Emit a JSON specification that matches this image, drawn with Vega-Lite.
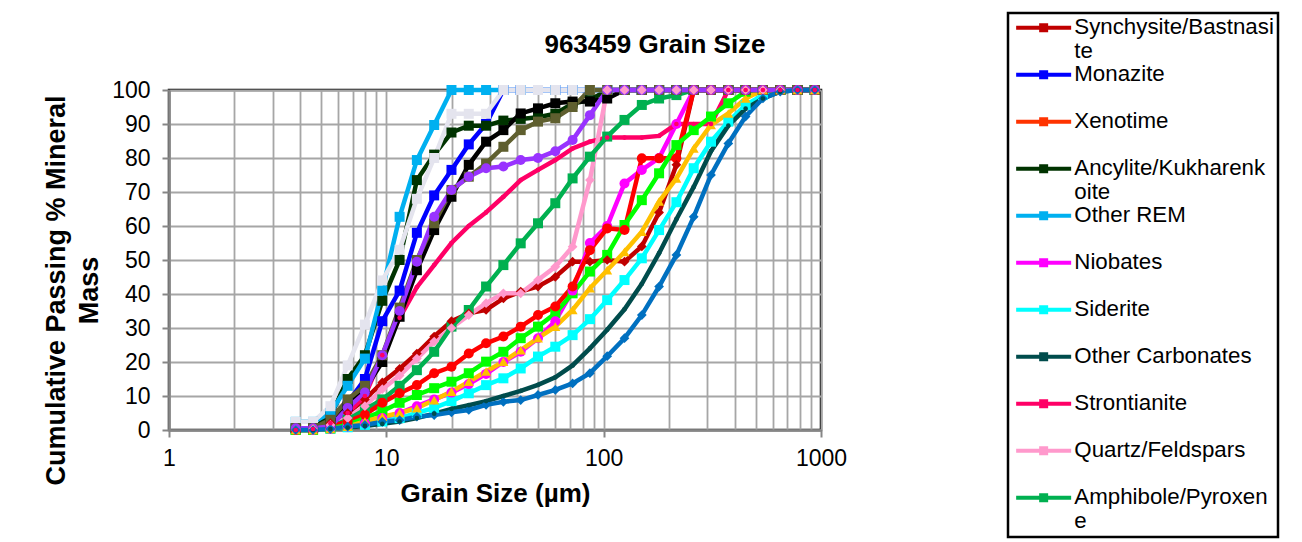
{
"$schema":"https://vega.github.io/schema/vega-lite/v6.json",
"width":652,"height":340,
"autosize":{"type":"none"},
"padding":{"left":169,"top":90,"right":481,"bottom":112},
"background":"white",
"title":{"text":"963459 Grain Size","fontSize":26,"fontWeight":"bold","font":"Liberation Sans","color":"#000","anchor":"middle","frame":"group","dx":160,"dy":28,"offset":-39,"baseline":"alphabetic"},
"data":{"values":[
{"s":"Synchysite/Bastnasite","x":3.83,"y":0},{"s":"Synchysite/Bastnasite","x":4.6,"y":0.3},{"s":"Synchysite/Bastnasite","x":5.53,"y":2},{"s":"Synchysite/Bastnasite","x":6.64,"y":5},{"s":"Synchysite/Bastnasite","x":7.97,"y":9},{"s":"Synchysite/Bastnasite","x":9.58,"y":14},{"s":"Synchysite/Bastnasite","x":11.51,"y":18},{"s":"Synchysite/Bastnasite","x":13.82,"y":22.5},{"s":"Synchysite/Bastnasite","x":16.6,"y":27.5},{"s":"Synchysite/Bastnasite","x":19.94,"y":32},{"s":"Synchysite/Bastnasite","x":23.95,"y":34.3},{"s":"Synchysite/Bastnasite","x":28.77,"y":35.3},{"s":"Synchysite/Bastnasite","x":34.56,"y":38.7},{"s":"Synchysite/Bastnasite","x":41.52,"y":40.7},{"s":"Synchysite/Bastnasite","x":49.87,"y":42.2},{"s":"Synchysite/Bastnasite","x":59.91,"y":45},{"s":"Synchysite/Bastnasite","x":71.95,"y":49.5},{"s":"Synchysite/Bastnasite","x":86.44,"y":49.5},{"s":"Synchysite/Bastnasite","x":103.8,"y":50},{"s":"Synchysite/Bastnasite","x":124.7,"y":49.5},{"s":"Synchysite/Bastnasite","x":149.8,"y":54},{"s":"Synchysite/Bastnasite","x":179.9,"y":64},{"s":"Synchysite/Bastnasite","x":216.1,"y":78},{"s":"Synchysite/Bastnasite","x":259.6,"y":100},{"s":"Synchysite/Bastnasite","x":311.8,"y":100},{"s":"Synchysite/Bastnasite","x":374.6,"y":100},{"s":"Synchysite/Bastnasite","x":449.9,"y":100},{"s":"Synchysite/Bastnasite","x":540.4,"y":100},{"s":"Synchysite/Bastnasite","x":649.2,"y":100},{"s":"Synchysite/Bastnasite","x":779.8,"y":100},{"s":"Synchysite/Bastnasite","x":936.6,"y":100},
{"s":"Monazite","x":3.83,"y":0.5},{"s":"Monazite","x":4.6,"y":0.5},{"s":"Monazite","x":5.53,"y":4},{"s":"Monazite","x":6.64,"y":8},{"s":"Monazite","x":7.97,"y":15},{"s":"Monazite","x":9.58,"y":32},{"s":"Monazite","x":11.51,"y":41},{"s":"Monazite","x":13.82,"y":58},{"s":"Monazite","x":16.6,"y":69},{"s":"Monazite","x":19.94,"y":76.5},{"s":"Monazite","x":23.95,"y":84},{"s":"Monazite","x":28.77,"y":90},{"s":"Monazite","x":34.56,"y":100},{"s":"Monazite","x":41.52,"y":100},{"s":"Monazite","x":49.87,"y":100},{"s":"Monazite","x":59.91,"y":100},{"s":"Monazite","x":71.95,"y":100},{"s":"Monazite","x":86.44,"y":100},{"s":"Monazite","x":103.8,"y":100},{"s":"Monazite","x":124.7,"y":100},{"s":"Monazite","x":149.8,"y":100},{"s":"Monazite","x":179.9,"y":100},{"s":"Monazite","x":216.1,"y":100},{"s":"Monazite","x":259.6,"y":100},{"s":"Monazite","x":311.8,"y":100},{"s":"Monazite","x":374.6,"y":100},{"s":"Monazite","x":449.9,"y":100},{"s":"Monazite","x":540.4,"y":100},{"s":"Monazite","x":649.2,"y":100},{"s":"Monazite","x":779.8,"y":100},{"s":"Monazite","x":936.6,"y":100},
{"s":"Ancylite/Kukharenkoite","x":3.83,"y":0.5},{"s":"Ancylite/Kukharenkoite","x":4.6,"y":0.5},{"s":"Ancylite/Kukharenkoite","x":5.53,"y":4},{"s":"Ancylite/Kukharenkoite","x":6.64,"y":15},{"s":"Ancylite/Kukharenkoite","x":7.97,"y":22},{"s":"Ancylite/Kukharenkoite","x":9.58,"y":38},{"s":"Ancylite/Kukharenkoite","x":11.51,"y":50},{"s":"Ancylite/Kukharenkoite","x":13.82,"y":73.5},{"s":"Ancylite/Kukharenkoite","x":16.6,"y":81},{"s":"Ancylite/Kukharenkoite","x":19.94,"y":87.5},{"s":"Ancylite/Kukharenkoite","x":23.95,"y":89.5},{"s":"Ancylite/Kukharenkoite","x":28.77,"y":89.5},{"s":"Ancylite/Kukharenkoite","x":34.56,"y":91},{"s":"Ancylite/Kukharenkoite","x":41.52,"y":91.5},{"s":"Ancylite/Kukharenkoite","x":49.87,"y":92},{"s":"Ancylite/Kukharenkoite","x":59.91,"y":93},{"s":"Ancylite/Kukharenkoite","x":71.95,"y":96},{"s":"Ancylite/Kukharenkoite","x":86.44,"y":97},{"s":"Ancylite/Kukharenkoite","x":103.8,"y":100},{"s":"Ancylite/Kukharenkoite","x":124.7,"y":100},{"s":"Ancylite/Kukharenkoite","x":149.8,"y":100},{"s":"Ancylite/Kukharenkoite","x":179.9,"y":100},{"s":"Ancylite/Kukharenkoite","x":216.1,"y":100},{"s":"Ancylite/Kukharenkoite","x":259.6,"y":100},{"s":"Ancylite/Kukharenkoite","x":311.8,"y":100},{"s":"Ancylite/Kukharenkoite","x":374.6,"y":100},{"s":"Ancylite/Kukharenkoite","x":449.9,"y":100},{"s":"Ancylite/Kukharenkoite","x":540.4,"y":100},{"s":"Ancylite/Kukharenkoite","x":649.2,"y":100},{"s":"Ancylite/Kukharenkoite","x":779.8,"y":100},{"s":"Ancylite/Kukharenkoite","x":936.6,"y":100},
{"s":"Other REM","x":3.83,"y":2.4},{"s":"Other REM","x":4.6,"y":2.4},{"s":"Other REM","x":5.53,"y":5},{"s":"Other REM","x":6.64,"y":13},{"s":"Other REM","x":7.97,"y":21},{"s":"Other REM","x":9.58,"y":41},{"s":"Other REM","x":11.51,"y":62.7},{"s":"Other REM","x":13.82,"y":79.4},{"s":"Other REM","x":16.6,"y":89.7},{"s":"Other REM","x":19.94,"y":100},{"s":"Other REM","x":23.95,"y":100},{"s":"Other REM","x":28.77,"y":100},{"s":"Other REM","x":34.56,"y":100},{"s":"Other REM","x":41.52,"y":100},{"s":"Other REM","x":49.87,"y":100},{"s":"Other REM","x":59.91,"y":100},{"s":"Other REM","x":71.95,"y":100},{"s":"Other REM","x":86.44,"y":100},{"s":"Other REM","x":103.8,"y":100},{"s":"Other REM","x":124.7,"y":100},{"s":"Other REM","x":149.8,"y":100},{"s":"Other REM","x":179.9,"y":100},{"s":"Other REM","x":216.1,"y":100},{"s":"Other REM","x":259.6,"y":100},{"s":"Other REM","x":311.8,"y":100},{"s":"Other REM","x":374.6,"y":100},{"s":"Other REM","x":449.9,"y":100},{"s":"Other REM","x":540.4,"y":100},{"s":"Other REM","x":649.2,"y":100},{"s":"Other REM","x":779.8,"y":100},{"s":"Other REM","x":936.6,"y":100},
{"s":"Niobates","x":3.83,"y":0},{"s":"Niobates","x":4.6,"y":0},{"s":"Niobates","x":5.53,"y":0.3},{"s":"Niobates","x":6.64,"y":1},{"s":"Niobates","x":7.97,"y":2},{"s":"Niobates","x":9.58,"y":3.5},{"s":"Niobates","x":11.51,"y":5},{"s":"Niobates","x":13.82,"y":7},{"s":"Niobates","x":16.6,"y":9},{"s":"Niobates","x":19.94,"y":11},{"s":"Niobates","x":23.95,"y":13.5},{"s":"Niobates","x":28.77,"y":16.5},{"s":"Niobates","x":34.56,"y":20},{"s":"Niobates","x":41.52,"y":23},{"s":"Niobates","x":49.87,"y":27},{"s":"Niobates","x":59.91,"y":32},{"s":"Niobates","x":71.95,"y":41},{"s":"Niobates","x":86.44,"y":55},{"s":"Niobates","x":103.8,"y":60},{"s":"Niobates","x":124.7,"y":72.5},{"s":"Niobates","x":149.8,"y":76.5},{"s":"Niobates","x":179.9,"y":80},{"s":"Niobates","x":216.1,"y":90},{"s":"Niobates","x":259.6,"y":100},{"s":"Niobates","x":311.8,"y":100},{"s":"Niobates","x":374.6,"y":100},{"s":"Niobates","x":449.9,"y":100},{"s":"Niobates","x":540.4,"y":100},{"s":"Niobates","x":649.2,"y":100},{"s":"Niobates","x":779.8,"y":100},{"s":"Niobates","x":936.6,"y":100},
{"s":"Siderite","x":3.83,"y":0},{"s":"Siderite","x":4.6,"y":0},{"s":"Siderite","x":5.53,"y":0.3},{"s":"Siderite","x":6.64,"y":0.8},{"s":"Siderite","x":7.97,"y":1.5},{"s":"Siderite","x":9.58,"y":2.5},{"s":"Siderite","x":11.51,"y":3.5},{"s":"Siderite","x":13.82,"y":5},{"s":"Siderite","x":16.6,"y":6.5},{"s":"Siderite","x":19.94,"y":8.5},{"s":"Siderite","x":23.95,"y":10.8},{"s":"Siderite","x":28.77,"y":13.2},{"s":"Siderite","x":34.56,"y":15.2},{"s":"Siderite","x":41.52,"y":18.1},{"s":"Siderite","x":49.87,"y":21.6},{"s":"Siderite","x":59.91,"y":24.5},{"s":"Siderite","x":71.95,"y":27.9},{"s":"Siderite","x":86.44,"y":32.6},{"s":"Siderite","x":103.8,"y":38.2},{"s":"Siderite","x":124.7,"y":44.1},{"s":"Siderite","x":149.8,"y":50.5},{"s":"Siderite","x":179.9,"y":58.8},{"s":"Siderite","x":216.1,"y":67},{"s":"Siderite","x":259.6,"y":77},{"s":"Siderite","x":311.8,"y":84.8},{"s":"Siderite","x":374.6,"y":90.7},{"s":"Siderite","x":449.9,"y":95.6},{"s":"Siderite","x":540.4,"y":98.5},{"s":"Siderite","x":649.2,"y":100},{"s":"Siderite","x":779.8,"y":100},{"s":"Siderite","x":936.6,"y":100},
{"s":"Other Carbonates","x":3.83,"y":0},{"s":"Other Carbonates","x":4.6,"y":0},{"s":"Other Carbonates","x":5.53,"y":0.3},{"s":"Other Carbonates","x":6.64,"y":0.7},{"s":"Other Carbonates","x":7.97,"y":1.2},{"s":"Other Carbonates","x":9.58,"y":1.8},{"s":"Other Carbonates","x":11.51,"y":2.5},{"s":"Other Carbonates","x":13.82,"y":3.5},{"s":"Other Carbonates","x":16.6,"y":4.8},{"s":"Other Carbonates","x":19.94,"y":6.2},{"s":"Other Carbonates","x":23.95,"y":7.3},{"s":"Other Carbonates","x":28.77,"y":8.5},{"s":"Other Carbonates","x":34.56,"y":10},{"s":"Other Carbonates","x":41.52,"y":11.5},{"s":"Other Carbonates","x":49.87,"y":13.3},{"s":"Other Carbonates","x":59.91,"y":15.5},{"s":"Other Carbonates","x":71.95,"y":19},{"s":"Other Carbonates","x":86.44,"y":24},{"s":"Other Carbonates","x":103.8,"y":29.5},{"s":"Other Carbonates","x":124.7,"y":35.5},{"s":"Other Carbonates","x":149.8,"y":43},{"s":"Other Carbonates","x":179.9,"y":52},{"s":"Other Carbonates","x":216.1,"y":62},{"s":"Other Carbonates","x":259.6,"y":71.5},{"s":"Other Carbonates","x":311.8,"y":82},{"s":"Other Carbonates","x":374.6,"y":89.5},{"s":"Other Carbonates","x":449.9,"y":94.5},{"s":"Other Carbonates","x":540.4,"y":97.5},{"s":"Other Carbonates","x":649.2,"y":99.5},{"s":"Other Carbonates","x":779.8,"y":100},{"s":"Other Carbonates","x":936.6,"y":100},
{"s":"Strontianite","x":3.83,"y":0},{"s":"Strontianite","x":4.6,"y":0.3},{"s":"Strontianite","x":5.53,"y":2},{"s":"Strontianite","x":6.64,"y":5},{"s":"Strontianite","x":7.97,"y":10},{"s":"Strontianite","x":9.58,"y":22},{"s":"Strontianite","x":11.51,"y":33},{"s":"Strontianite","x":13.82,"y":42},{"s":"Strontianite","x":16.6,"y":48.5},{"s":"Strontianite","x":19.94,"y":55},{"s":"Strontianite","x":23.95,"y":60},{"s":"Strontianite","x":28.77,"y":64},{"s":"Strontianite","x":34.56,"y":68.6},{"s":"Strontianite","x":41.52,"y":73.5},{"s":"Strontianite","x":49.87,"y":76.5},{"s":"Strontianite","x":59.91,"y":79.4},{"s":"Strontianite","x":71.95,"y":82.8},{"s":"Strontianite","x":86.44,"y":84.8},{"s":"Strontianite","x":103.8,"y":86},{"s":"Strontianite","x":124.7,"y":86},{"s":"Strontianite","x":149.8,"y":86},{"s":"Strontianite","x":179.9,"y":86.5},{"s":"Strontianite","x":216.1,"y":90},{"s":"Strontianite","x":259.6,"y":90},{"s":"Strontianite","x":311.8,"y":90},{"s":"Strontianite","x":374.6,"y":100},{"s":"Strontianite","x":449.9,"y":100},{"s":"Strontianite","x":540.4,"y":100},{"s":"Strontianite","x":649.2,"y":100},{"s":"Strontianite","x":779.8,"y":100},{"s":"Strontianite","x":936.6,"y":100},
{"s":"Quartz/Feldspars","x":3.83,"y":0},{"s":"Quartz/Feldspars","x":4.6,"y":0.3},{"s":"Quartz/Feldspars","x":5.53,"y":1.5},{"s":"Quartz/Feldspars","x":6.64,"y":3.5},{"s":"Quartz/Feldspars","x":7.97,"y":7},{"s":"Quartz/Feldspars","x":9.58,"y":12},{"s":"Quartz/Feldspars","x":11.51,"y":16},{"s":"Quartz/Feldspars","x":13.82,"y":21},{"s":"Quartz/Feldspars","x":16.6,"y":26},{"s":"Quartz/Feldspars","x":19.94,"y":30},{"s":"Quartz/Feldspars","x":23.95,"y":33.8},{"s":"Quartz/Feldspars","x":28.77,"y":37.3},{"s":"Quartz/Feldspars","x":34.56,"y":40.2},{"s":"Quartz/Feldspars","x":41.52,"y":40.2},{"s":"Quartz/Feldspars","x":49.87,"y":44.1},{"s":"Quartz/Feldspars","x":59.91,"y":48},{"s":"Quartz/Feldspars","x":71.95,"y":53.9},{"s":"Quartz/Feldspars","x":86.44,"y":73.5},{"s":"Quartz/Feldspars","x":103.8,"y":100},{"s":"Quartz/Feldspars","x":124.7,"y":100},{"s":"Quartz/Feldspars","x":149.8,"y":100},{"s":"Quartz/Feldspars","x":179.9,"y":100},{"s":"Quartz/Feldspars","x":216.1,"y":100},{"s":"Quartz/Feldspars","x":259.6,"y":100},{"s":"Quartz/Feldspars","x":311.8,"y":100},{"s":"Quartz/Feldspars","x":374.6,"y":100},{"s":"Quartz/Feldspars","x":449.9,"y":100},{"s":"Quartz/Feldspars","x":540.4,"y":100},{"s":"Quartz/Feldspars","x":649.2,"y":100},{"s":"Quartz/Feldspars","x":779.8,"y":100},{"s":"Quartz/Feldspars","x":936.6,"y":100},
{"s":"Amphibole/Pyroxene","x":3.83,"y":0},{"s":"Amphibole/Pyroxene","x":4.6,"y":0},{"s":"Amphibole/Pyroxene","x":5.53,"y":1},{"s":"Amphibole/Pyroxene","x":6.64,"y":3},{"s":"Amphibole/Pyroxene","x":7.97,"y":6},{"s":"Amphibole/Pyroxene","x":9.58,"y":9},{"s":"Amphibole/Pyroxene","x":11.51,"y":13},{"s":"Amphibole/Pyroxene","x":13.82,"y":17.6},{"s":"Amphibole/Pyroxene","x":16.6,"y":23},{"s":"Amphibole/Pyroxene","x":19.94,"y":30.4},{"s":"Amphibole/Pyroxene","x":23.95,"y":35.3},{"s":"Amphibole/Pyroxene","x":28.77,"y":42.2},{"s":"Amphibole/Pyroxene","x":34.56,"y":48.5},{"s":"Amphibole/Pyroxene","x":41.52,"y":54.9},{"s":"Amphibole/Pyroxene","x":49.87,"y":60.8},{"s":"Amphibole/Pyroxene","x":59.91,"y":66.7},{"s":"Amphibole/Pyroxene","x":71.95,"y":74},{"s":"Amphibole/Pyroxene","x":86.44,"y":80.4},{"s":"Amphibole/Pyroxene","x":103.8,"y":86.3},{"s":"Amphibole/Pyroxene","x":124.7,"y":91.2},{"s":"Amphibole/Pyroxene","x":149.8,"y":95.6},{"s":"Amphibole/Pyroxene","x":179.9,"y":97.5},{"s":"Amphibole/Pyroxene","x":216.1,"y":98.5},{"s":"Amphibole/Pyroxene","x":259.6,"y":100},{"s":"Amphibole/Pyroxene","x":311.8,"y":100},{"s":"Amphibole/Pyroxene","x":374.6,"y":100},{"s":"Amphibole/Pyroxene","x":449.9,"y":100},{"s":"Amphibole/Pyroxene","x":540.4,"y":100},{"s":"Amphibole/Pyroxene","x":649.2,"y":100},{"s":"Amphibole/Pyroxene","x":779.8,"y":100},{"s":"Amphibole/Pyroxene","x":936.6,"y":100},
{"s":"S12","x":3.83,"y":0},{"s":"S12","x":4.6,"y":0.3},{"s":"S12","x":5.53,"y":1},{"s":"S12","x":6.64,"y":2.5},{"s":"S12","x":7.97,"y":4.5},{"s":"S12","x":9.58,"y":8},{"s":"S12","x":11.51,"y":10.8},{"s":"S12","x":13.82,"y":13.2},{"s":"S12","x":16.6,"y":16.7},{"s":"S12","x":19.94,"y":18.6},{"s":"S12","x":23.95,"y":22.5},{"s":"S12","x":28.77,"y":25.5},{"s":"S12","x":34.56,"y":27.5},{"s":"S12","x":41.52,"y":30.4},{"s":"S12","x":49.87,"y":33.8},{"s":"S12","x":59.91,"y":36.3},{"s":"S12","x":71.95,"y":42.2},{"s":"S12","x":86.44,"y":52.9},{"s":"S12","x":103.8,"y":59.3},{"s":"S12","x":124.7,"y":58.8},{"s":"S12","x":149.8,"y":79.9},{"s":"S12","x":179.9,"y":79.9},{"s":"S12","x":216.1,"y":79.9},{"s":"S12","x":259.6,"y":100},{"s":"S12","x":311.8,"y":100},{"s":"S12","x":374.6,"y":100},{"s":"S12","x":449.9,"y":100},{"s":"S12","x":540.4,"y":100},{"s":"S12","x":649.2,"y":100},{"s":"S12","x":779.8,"y":100},{"s":"S12","x":936.6,"y":100},
{"s":"S13","x":3.83,"y":0},{"s":"S13","x":4.6,"y":0},{"s":"S13","x":5.53,"y":0.5},{"s":"S13","x":6.64,"y":1.5},{"s":"S13","x":7.97,"y":3.5},{"s":"S13","x":9.58,"y":5.5},{"s":"S13","x":11.51,"y":8},{"s":"S13","x":13.82,"y":10.3},{"s":"S13","x":16.6,"y":12.3},{"s":"S13","x":19.94,"y":14.2},{"s":"S13","x":23.95,"y":16.7},{"s":"S13","x":28.77,"y":20.1},{"s":"S13","x":34.56,"y":23},{"s":"S13","x":41.52,"y":27},{"s":"S13","x":49.87,"y":30.4},{"s":"S13","x":59.91,"y":34.3},{"s":"S13","x":71.95,"y":40.2},{"s":"S13","x":86.44,"y":46.6},{"s":"S13","x":103.8,"y":51.5},{"s":"S13","x":124.7,"y":60.3},{"s":"S13","x":149.8,"y":67.6},{"s":"S13","x":179.9,"y":75.5},{"s":"S13","x":216.1,"y":83.8},{"s":"S13","x":259.6,"y":88.2},{"s":"S13","x":311.8,"y":92.2},{"s":"S13","x":374.6,"y":96.1},{"s":"S13","x":449.9,"y":99.5},{"s":"S13","x":540.4,"y":100},{"s":"S13","x":649.2,"y":100},{"s":"S13","x":779.8,"y":100},{"s":"S13","x":936.6,"y":100},
{"s":"S14","x":3.83,"y":0},{"s":"S14","x":4.6,"y":0},{"s":"S14","x":5.53,"y":0.3},{"s":"S14","x":6.64,"y":1},{"s":"S14","x":7.97,"y":2.5},{"s":"S14","x":9.58,"y":3.9},{"s":"S14","x":11.51,"y":5},{"s":"S14","x":13.82,"y":6.4},{"s":"S14","x":16.6,"y":8.8},{"s":"S14","x":19.94,"y":11.3},{"s":"S14","x":23.95,"y":14.2},{"s":"S14","x":28.77,"y":17.2},{"s":"S14","x":34.56,"y":20.1},{"s":"S14","x":41.52,"y":23.5},{"s":"S14","x":49.87,"y":27},{"s":"S14","x":59.91,"y":30.4},{"s":"S14","x":71.95,"y":35.3},{"s":"S14","x":86.44,"y":41.7},{"s":"S14","x":103.8,"y":47},{"s":"S14","x":124.7,"y":52.4},{"s":"S14","x":149.8,"y":58.3},{"s":"S14","x":179.9,"y":67.2},{"s":"S14","x":216.1,"y":74},{"s":"S14","x":259.6,"y":82.8},{"s":"S14","x":311.8,"y":89.7},{"s":"S14","x":374.6,"y":93.1},{"s":"S14","x":449.9,"y":97.5},{"s":"S14","x":540.4,"y":100},{"s":"S14","x":649.2,"y":100},{"s":"S14","x":779.8,"y":100},{"s":"S14","x":936.6,"y":100},
{"s":"S15","x":3.83,"y":2.4},{"s":"S15","x":4.6,"y":2.4},{"s":"S15","x":5.53,"y":7},{"s":"S15","x":6.64,"y":19},{"s":"S15","x":7.97,"y":31},{"s":"S15","x":9.58,"y":44},{"s":"S15","x":11.51,"y":53},{"s":"S15","x":13.82,"y":68},{"s":"S15","x":16.6,"y":80},{"s":"S15","x":19.94,"y":93},{"s":"S15","x":23.95,"y":93},{"s":"S15","x":28.77,"y":93},{"s":"S15","x":34.56,"y":100},{"s":"S15","x":41.52,"y":100},{"s":"S15","x":49.87,"y":100},{"s":"S15","x":59.91,"y":100},{"s":"S15","x":71.95,"y":100},{"s":"S15","x":86.44,"y":100},{"s":"S15","x":103.8,"y":100},{"s":"S15","x":124.7,"y":100},{"s":"S15","x":149.8,"y":100},{"s":"S15","x":179.9,"y":100},{"s":"S15","x":216.1,"y":100},{"s":"S15","x":259.6,"y":100},{"s":"S15","x":311.8,"y":100},{"s":"S15","x":374.6,"y":100},{"s":"S15","x":449.9,"y":100},{"s":"S15","x":540.4,"y":100},{"s":"S15","x":649.2,"y":100},{"s":"S15","x":779.8,"y":100},{"s":"S15","x":936.6,"y":100},
{"s":"S16","x":3.83,"y":0.5},{"s":"S16","x":4.6,"y":0.5},{"s":"S16","x":5.53,"y":2},{"s":"S16","x":6.64,"y":7},{"s":"S16","x":7.97,"y":12},{"s":"S16","x":9.58,"y":20},{"s":"S16","x":11.51,"y":33.3},{"s":"S16","x":13.82,"y":47},{"s":"S16","x":16.6,"y":58.8},{"s":"S16","x":19.94,"y":68.6},{"s":"S16","x":23.95,"y":78},{"s":"S16","x":28.77,"y":84.8},{"s":"S16","x":34.56,"y":88.2},{"s":"S16","x":41.52,"y":93.1},{"s":"S16","x":49.87,"y":94.6},{"s":"S16","x":59.91,"y":96.1},{"s":"S16","x":71.95,"y":96.6},{"s":"S16","x":86.44,"y":96.6},{"s":"S16","x":103.8,"y":97.5},{"s":"S16","x":124.7,"y":100},{"s":"S16","x":149.8,"y":100},{"s":"S16","x":179.9,"y":100},{"s":"S16","x":216.1,"y":100},{"s":"S16","x":259.6,"y":100},{"s":"S16","x":311.8,"y":100},{"s":"S16","x":374.6,"y":100},{"s":"S16","x":449.9,"y":100},{"s":"S16","x":540.4,"y":100},{"s":"S16","x":649.2,"y":100},{"s":"S16","x":779.8,"y":100},{"s":"S16","x":936.6,"y":100},
{"s":"S17","x":3.83,"y":0.5},{"s":"S17","x":4.6,"y":0.5},{"s":"S17","x":5.53,"y":3},{"s":"S17","x":6.64,"y":9},{"s":"S17","x":7.97,"y":13},{"s":"S17","x":9.58,"y":22},{"s":"S17","x":11.51,"y":36},{"s":"S17","x":13.82,"y":50},{"s":"S17","x":16.6,"y":60.8},{"s":"S17","x":19.94,"y":70.6},{"s":"S17","x":23.95,"y":74.5},{"s":"S17","x":28.77,"y":78.4},{"s":"S17","x":34.56,"y":83.3},{"s":"S17","x":41.52,"y":88.2},{"s":"S17","x":49.87,"y":90.7},{"s":"S17","x":59.91,"y":91.7},{"s":"S17","x":71.95,"y":95},{"s":"S17","x":86.44,"y":100},{"s":"S17","x":103.8,"y":100},{"s":"S17","x":124.7,"y":100},{"s":"S17","x":149.8,"y":100},{"s":"S17","x":179.9,"y":100},{"s":"S17","x":216.1,"y":100},{"s":"S17","x":259.6,"y":100},{"s":"S17","x":311.8,"y":100},{"s":"S17","x":374.6,"y":100},{"s":"S17","x":449.9,"y":100},{"s":"S17","x":540.4,"y":100},{"s":"S17","x":649.2,"y":100},{"s":"S17","x":779.8,"y":100},{"s":"S17","x":936.6,"y":100},
{"s":"S18","x":3.83,"y":0.5},{"s":"S18","x":4.6,"y":0.5},{"s":"S18","x":5.53,"y":1},{"s":"S18","x":6.64,"y":6.5},{"s":"S18","x":7.97,"y":11},{"s":"S18","x":9.58,"y":22},{"s":"S18","x":11.51,"y":35},{"s":"S18","x":13.82,"y":49.5},{"s":"S18","x":16.6,"y":62.7},{"s":"S18","x":19.94,"y":70.6},{"s":"S18","x":23.95,"y":74.5},{"s":"S18","x":28.77,"y":77},{"s":"S18","x":34.56,"y":77.5},{"s":"S18","x":41.52,"y":79.4},{"s":"S18","x":49.87,"y":80},{"s":"S18","x":59.91,"y":82},{"s":"S18","x":71.95,"y":85.3},{"s":"S18","x":86.44,"y":92.6},{"s":"S18","x":103.8,"y":100},{"s":"S18","x":124.7,"y":100},{"s":"S18","x":149.8,"y":100},{"s":"S18","x":179.9,"y":100},{"s":"S18","x":216.1,"y":100},{"s":"S18","x":259.6,"y":100},{"s":"S18","x":311.8,"y":100},{"s":"S18","x":374.6,"y":100},{"s":"S18","x":449.9,"y":100},{"s":"S18","x":540.4,"y":100},{"s":"S18","x":649.2,"y":100},{"s":"S18","x":779.8,"y":100},{"s":"S18","x":936.6,"y":100},
{"s":"S19","x":3.83,"y":0},{"s":"S19","x":4.6,"y":0},{"s":"S19","x":5.53,"y":0.3},{"s":"S19","x":6.64,"y":1},{"s":"S19","x":7.97,"y":1.5},{"s":"S19","x":9.58,"y":2.4},{"s":"S19","x":11.51,"y":2.9},{"s":"S19","x":13.82,"y":3.9},{"s":"S19","x":16.6,"y":4.4},{"s":"S19","x":19.94,"y":5.2},{"s":"S19","x":23.95,"y":5.9},{"s":"S19","x":28.77,"y":7.4},{"s":"S19","x":34.56,"y":8.3},{"s":"S19","x":41.52,"y":8.8},{"s":"S19","x":49.87,"y":10.3},{"s":"S19","x":59.91,"y":11.8},{"s":"S19","x":71.95,"y":13.7},{"s":"S19","x":86.44,"y":16.7},{"s":"S19","x":103.8,"y":21.7},{"s":"S19","x":124.7,"y":27},{"s":"S19","x":149.8,"y":33.8},{"s":"S19","x":179.9,"y":42.2},{"s":"S19","x":216.1,"y":51.5},{"s":"S19","x":259.6,"y":62.7},{"s":"S19","x":311.8,"y":75},{"s":"S19","x":374.6,"y":84.3},{"s":"S19","x":449.9,"y":92.2},{"s":"S19","x":540.4,"y":97.5},{"s":"S19","x":649.2,"y":99.5},{"s":"S19","x":779.8,"y":100},{"s":"S19","x":936.6,"y":100}
]},
"encoding":{
 "x":{"field":"x","type":"quantitative","scale":{"type":"log","domain":[1,1000]},
  "axis":{"title":"Grain Size (µm)","values":[1,2,3,4,5,6,7,8,9,10,20,30,40,50,60,70,80,90,100,200,300,400,500,600,700,800,900,1000],"format":"d","labelExpr":"datum.value == 1 || datum.value == 10 || datum.value == 100 || datum.value == 1000 ? datum.label : ''","labelFlush":false,"labelOverlap":false,"labelPadding":10,"titlePadding":10,"tickOpacity":{"condition":{"test":"datum.value == 1 || datum.value == 10 || datum.value == 100 || datum.value == 1000","value":1},"value":0}}},
 "y":{"field":"y","type":"quantitative","scale":{"domain":[0,100]},
  "axis":{"title":["Cumulative Passing % Mineral","Mass"],"values":[0,10,20,30,40,50,60,70,80,90,100],"labelFlush":false,"labelPadding":12,"titlePadding":8,"titleLineHeight":33,"titleFontSize":27,"titleY":200}},
 "color":{"field":"s","type":"nominal","sort":null,
  "scale":{"domain":["Synchysite/Bastnasite","Monazite","Xenotime","Ancylite/Kukharenkoite","Other REM","Niobates","Siderite","Other Carbonates","Strontianite","Quartz/Feldspars","Amphibole/Pyroxene","S12","S13","S14","S15","S16","S17","S18","S19"],
   "range":["#C00000","#0000FF","#FF3300","#003300","#00B0F0","#FF00FF","#00FFFF","#004C4C","#FF0066","#FF99CC","#00B050","#FF0000","#00FF00","#FFC000","#E4E4EE","#000000","#5F5F2F","#9933FF","#0070C0"]},
  "legend":{"orient":"none","legendX":839,"legendY":-77,"title":null,
   "values":["Synchysite/Bastnasite","Monazite","Xenotime","Ancylite/Kukharenkoite","Other REM","Niobates","Siderite","Other Carbonates","Strontianite","Quartz/Feldspars","Amphibole/Pyroxene"],
   "symbolType":"M-0.65,-0.2H4.85V0.2H-0.65Z M1.65,-0.45H2.55V0.45H1.65Z","symbolSize":400,"symbolStrokeWidth":0,
   "labelFont":"Liberation Sans","labelFontSize":22.3,"labelColor":"#000","labelLimit":400,"labelOffset":40.5,"labelBaseline":"top","labelLineHeight":24.5,
   "labelExpr":"datum.label == 'Synchysite/Bastnasite' ? ['Synchysite/Bastnasi','te'] : datum.label == 'Ancylite/Kukharenkoite' ? ['Ancylite/Kukharenk','oite'] : datum.label == 'Amphibole/Pyroxene' ? ['Amphibole/Pyroxen','e'] : [datum.label,' ']",
   "rowPadding":-5.6,"padding":3.5,"strokeColor":"#000",
   "encode":{"symbols":{"update":{"shape":{"value":"M-0.65,-0.2H4.85V0.2H-0.65Z M1.65,-0.45H2.55V0.45H1.65Z"},"size":{"value":400},"fill":{"scale":"color","field":"value"},"strokeWidth":{"value":0},"opacity":{"value":1}}},"labels":{"update":{"dy":{"value":-11.5}}}}}}
},
"layer":[
 {"mark":{"type":"line","strokeWidth":4.5}},
 {"transform":[{"filter":{"field":"s","oneOf":["Monazite","Ancylite/Kukharenkoite","Other REM","Siderite","Amphibole/Pyroxene","S13","S15","S16","S17"]}}],
  "mark":{"type":"point","filled":true,"opacity":1,"size":100,"shape":"square"}},
 {"transform":[{"filter":{"field":"s","oneOf":["Niobates","S12","S18"]}}],
  "mark":{"type":"point","filled":true,"opacity":1,"size":100,"shape":"circle"}},
 {"transform":[{"filter":{"field":"s","oneOf":["S14"]}}],
  "mark":{"type":"point","filled":true,"opacity":1,"size":100,"shape":"triangle-up"}},
 {"transform":[{"filter":{"field":"s","oneOf":["Synchysite/Bastnasite","Quartz/Feldspars","S19"]}}],
  "mark":{"type":"point","filled":true,"opacity":1,"size":95,"shape":"diamond"}},
 {"transform":[{"filter":{"field":"s","oneOf":["Other Carbonates","Strontianite"]}}],
  "mark":{"type":"point","filled":true,"opacity":1,"size":22,"shape":"circle"}}
],
"config":{
 "font":"Liberation Sans",
 "view":{"stroke":"#000","strokeWidth":2.5},
 "axis":{"labelFont":"Liberation Sans","labelFontSize":23,"labelColor":"#000","titleFont":"Liberation Sans","titleFontSize":26,"titleFontWeight":"bold","titleColor":"#000","gridColor":"#A6A6A6","gridWidth":1.8,"domainColor":"#868686","domainWidth":2.5,"tickColor":"#868686","tickWidth":2,"tickSize":7},
 "legend":{"strokeWidth":2.5}
}
}
